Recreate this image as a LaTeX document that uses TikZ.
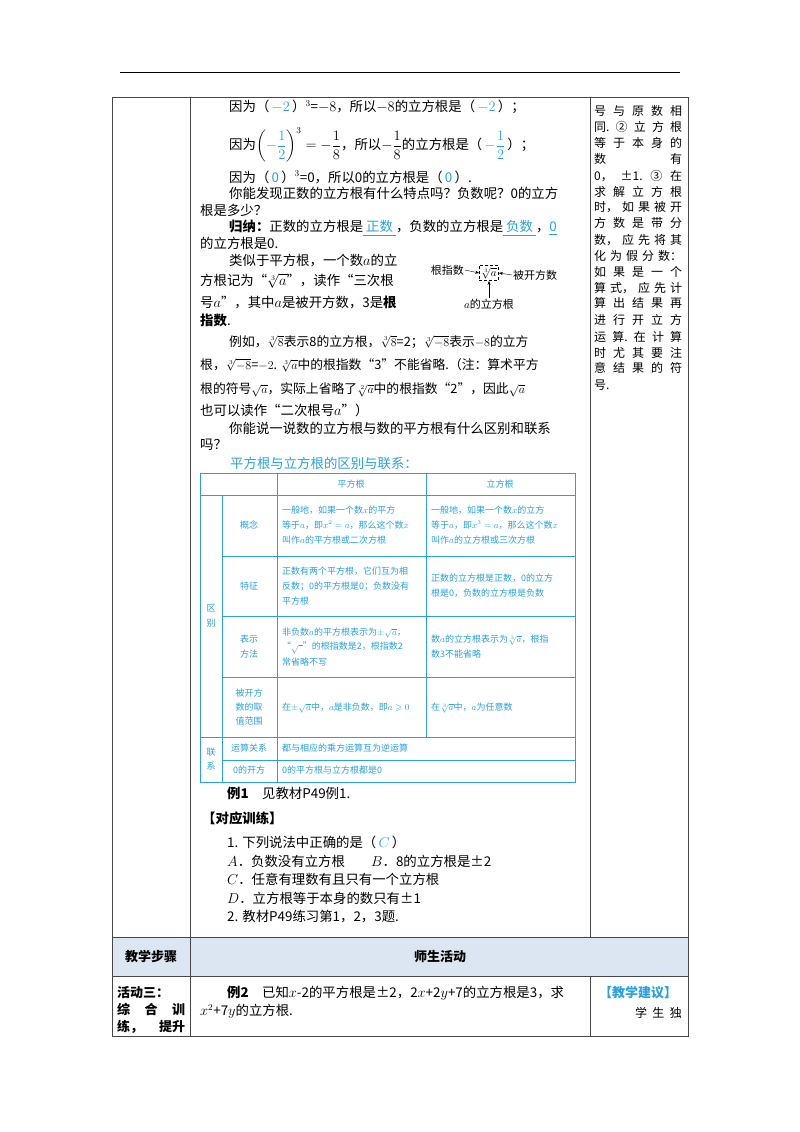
\documentclass[tikz,border=0pt]{standalone}
\usepackage{amsmath,amssymb}
\usepackage{fontspec}
\setmainfont{Noto Sans CJK SC}
\usetikzlibrary{arrows.meta}
\definecolor{ab}{RGB}{40,160,225}
\definecolor{hdr}{RGB}{220,230,242}
\definecolor{ln}{RGB}{70,70,70}
\begin{document}
\begin{tikzpicture}[x=1pt,y=-1pt,
  t/.style={anchor=west,inner sep=0pt,font=\fontsize{13.4}{15}\selectfont},
  tn/.style={t,font=\fontsize{12.8}{15}\selectfont},
  r/.style={anchor=west,inner sep=0pt,font=\fontsize{12}{14}\selectfont,text width=88pt},
  s/.style={inner sep=0pt,font=\fontsize{9}{11}\selectfont,text=ab},
  sl/.style={s,anchor=west},
  tl/.style={draw=ab,line width=1pt},
  ol/.style={draw=ln,line width=0.9pt}]
\useasboundingbox (0,0) rectangle (800,1132);
\draw[line width=0.9pt] (120,72) -- (680,72);
% outer table
\fill[hdr] (112,937) rectangle (688,976);
\draw[ol] (112,97) rectangle (688,1036);
\draw[ol] (112,937) -- (688,937) (112,976) -- (688,976);
\draw[ol] (190,97) -- (190,1036);
\draw[ol] (590,97) -- (590,937) (590,976) -- (590,1036);
% left text
\node[t] (l1) at (229,107) {因为（\,\textcolor{ab}{$-2$}\,）$^3$=$-8$，所以$-8$的立方根是（\,\textcolor{ab}{$-2$}\,）；};
\node[t] (l2) at (229,145) {因为$\left(\textcolor{ab}{-\dfrac12}\right)^{3}=-\dfrac18$，所以$-\dfrac18$的立方根是（\,\textcolor{ab}{$-\dfrac12$}\,）；};
\node[t] (l3) at (229,177) {因为（\,\textcolor{ab}{0}\,）$^3$=0，所以0的立方根是（\,\textcolor{ab}{0}\,）.};
\node[t] (l4) at (229,193) {你能发现正数的立方根有什么特点吗？负数呢？0的立方};
\node[t] (l5) at (200,210) {根是多少？};
\node[t] (l6) at (229,228) {\textbf{归纳：}正数的立方根是\textcolor{ab}{\underline{\ 正数\ }}，负数的立方根是\textcolor{ab}{\underline{\ 负数\ }}，\textcolor{ab}{\underline{0}}};
\node[t] (l7) at (200,243) {的立方根是0.};
\node[t] (l8) at (229,261) {类似于平方根，一个数$a$的立};
\node[t] (l9) at (200,281) {方根记为“$\sqrt[3]{a}$”，读作“三次根};
\node[t] (l10) at (200,302) {号$a$”，其中$a$是被开方数，3是\textbf{根}};
\node[t] (l11) at (200,320) {\textbf{指数}.};
\node[tn] (l12) at (229,342) {例如，$\sqrt[3]{8}$表示8的立方根，$\sqrt[3]{8}$=2；$\sqrt[3]{-8}$表示$-8$的立方};
\node[tn] (l13) at (200,365) {根，$\sqrt[3]{-8}$=$-2$. $\sqrt[3]{a}$中的根指数“3”不能省略.（注：算术平方};
\node[tn] (l14) at (200,390) {根的符号$\sqrt{a}$，实际上省略了$\sqrt[2]{a}$中的根指数“2”，因此$\sqrt{a}$};
\node[t] (l15) at (200,410) {也可以读作“二次根号$a$”）};
\node[t] (l16) at (229,428) {你能说一说数的立方根与数的平方根有什么区别和联系};
\node[t] (l17) at (200,445) {吗？};
\node[t,text=ab] (l18) at (230,463) {平方根与立方根的区别与联系：};
% small diagram
\node[draw,densely dashed,inner sep=2pt,font=\fontsize{11}{12}\selectfont] (bx) at (489,273) {$\sqrt[3]{a}$};
\node[anchor=east,inner sep=1pt,font=\fontsize{11}{12}\selectfont] (gz) at (465,270) {根指数};
\node[anchor=west,inner sep=1pt,font=\fontsize{11}{12}\selectfont] (bk) at (512,275) {被开方数};
\node[inner sep=1pt,font=\fontsize{11}{12}\selectfont] (lf) at (489,304) {$a$的立方根};
\draw[-{Stealth[length=4pt]}] (gz.east) -- (bx.west);
\draw[-{Stealth[length=4pt]}] (bk.west) -- (bx.east);
\draw[-{Stealth[length=4pt]}] (lf.north) -- (bx.south);
% right column
\node[r] (r1) at (594,111) {号\hfill 与\hfill 原\hfill 数\hfill 相};
\node[r] (r2) at (594,127) {同.\hfill ②\hfill 立\hfill 方\hfill 根};
\node[r] (r3) at (594,143) {等\hfill 于\hfill 本\hfill 身\hfill 的};
\node[r] (r4) at (594,159) {数\hfill 有};
\node[r] (r5) at (594,176) {0，\hfill ±1.\hfill ③\hfill 在};
\node[r] (r6) at (594,192) {求\hfill 解\hfill 立\hfill 方\hfill 根};
\node[r] (r7) at (594,207) {时，\hfill 如\hfill 果\hfill 被\hfill 开};
\node[r] (r8) at (594,223) {方\hfill 数\hfill 是\hfill 带\hfill 分};
\node[r] (r9) at (594,240) {数，\hfill 应\hfill 先\hfill 将\hfill 其};
\node[r] (r10) at (594,256) {化\hfill 为\hfill 假\hfill 分\hfill 数：};
\node[r] (r11) at (594,272) {如\hfill 果\hfill 是\hfill 一\hfill 个};
\node[r] (r12) at (594,288) {算\hfill 式，\hfill 应\hfill 先\hfill 计};
\node[r] (r13) at (594,303) {算\hfill 出\hfill 结\hfill 果\hfill 再};
\node[r] (r14) at (594,320) {进\hfill 行\hfill 开\hfill 立\hfill 方};
\node[r] (r15) at (594,337) {运\hfill 算.\hfill 在\hfill 计\hfill 算};
\node[r] (r16) at (594,353) {时\hfill 尤\hfill 其\hfill 要\hfill 注};
\node[r] (r17) at (594,368) {意\hfill 结\hfill 果\hfill 的\hfill 符};
\node[r] (r18) at (594,385) {号.};
% inner table
\draw[tl] (200,473) rectangle (575,782);
\draw[tl] (200,495) -- (575,495) (222,556) -- (575,556) (222,616) -- (575,616)
  (222,677) -- (575,677) (200,737) -- (575,737) (222,760) -- (575,760);
\draw[tl] (222,495) -- (222,782) (277,473) -- (277,782) (426,473) -- (426,737);
\node[s] (h1) at (351,484) {平方根};
\node[s] (h2) at (500,484) {立方根};
\node[s,align=center] (qb) at (211,616) {区\\[4pt]别};
\node[s,align=center] (lx) at (211,759) {联\\[3pt]系};
\node[s] (c1) at (249,525) {概念};
\node[s] (c2) at (249,586) {特征};
\node[s,align=center] (c3) at (249,647) {表示\\[4pt]方法};
\node[s,align=center] (c4) at (249,707) {被开方\\[3pt]数的取\\[3pt]值范围};
\node[s] (c5) at (249,748) {运算关系};
\node[s] (c6) at (249,770) {0的开方};
\node[sl,align=left] (d1) at (282,525) {一般地，如果一个数$x$的平方\\[4pt]等于$a$，即$x^2=a$，那么这个数$x$\\[4pt]叫作$a$的平方根或二次方根};
\node[sl,align=left] (e1) at (431,525) {一般地，如果一个数$x$的立方\\[4pt]等于$a$，即$x^3=a$，那么这个数$x$\\[4pt]叫作$a$的立方根或三次方根};
\node[sl,align=left] (d2) at (282,586) {正数有两个平方根，它们互为相\\[4pt]反数；0的平方根是0；负数没有\\[4pt]平方根};
\node[sl,align=left] (e2) at (431,586) {正数的立方根是正数，0的立方\\[4pt]根是0，负数的立方根是负数};
\node[sl,align=left] (d3) at (282,647) {非负数$a$的平方根表示为$\pm\sqrt{a}$，\\[3pt]“$\sqrt{\ \ }$”的根指数是2，根指数2\\[3pt]常省略不写};
\node[sl,align=left] (e3) at (431,647) {数$a$的立方根表示为$\sqrt[3]{a}$，根指\\[4pt]数3不能省略};
\node[sl] (d4) at (282,708) {在$\pm\sqrt{a}$中，$a$是非负数，即$a\geqslant0$};
\node[sl] (e4) at (431,708) {在$\sqrt[3]{a}$中，$a$为任意数};
\node[sl] (d5) at (282,748) {都与相应的乘方运算互为逆运算};
\node[sl] (d6) at (282,770) {0的平方根与立方根都是0};
% bottom text
\node[t] (b1) at (227,793) {\textbf{例1}\quad 见教材P49例1.};
\node[t] (b2) at (202,818) {\textbf{【对应训练】}};
\node[t] (b3) at (227,842) {1. 下列说法中正确的是（\,\textcolor{ab}{$C$}\,）};
\node[t] (b4) at (227,861) {$A$．负数没有立方根};
\node[t] (b4b) at (371,861) {$B$．8的立方根是±2};
\node[t] (b5) at (227,879) {$C$．任意有理数有且只有一个立方根};
\node[t] (b6) at (227,898) {$D$．立方根等于本身的数只有±1};
\node[t] (b7) at (227,917) {2. 教材P49练习第1，2，3题.};
\node[font=\fontsize{13}{15}\selectfont\bfseries] (hA) at (151,957) {教学步骤};
\node[font=\fontsize{13}{15}\selectfont\bfseries] (hB) at (440,957) {师生活动};
\node[anchor=west,inner sep=0pt,font=\fontsize{13}{17}\selectfont\bfseries,align=left] (act) at (117,1010) {活动三：\\\makebox[68pt][s]{综\hfill 合\hfill 训}\\\makebox[68pt][s]{练，\hfill 提升}};
\node[t] (ex2) at (227,993) {\textbf{例2}\quad 已知$x$-2的平方根是±2，2$x$+2$y$+7的立方根是3，求};
\node[t] (ex2b) at (200,1011) {$x^2$+7$y$的立方根.};
\node[font=\fontsize{13}{15}\selectfont\bfseries,text=ab] (jy) at (638,993) {【教学建议】};
\node[anchor=east,inner sep=0pt,font=\fontsize{12}{14}\selectfont] (xs) at (682,1013) {学\ \ 生\ \ 独};
\end{tikzpicture}
\end{document}
